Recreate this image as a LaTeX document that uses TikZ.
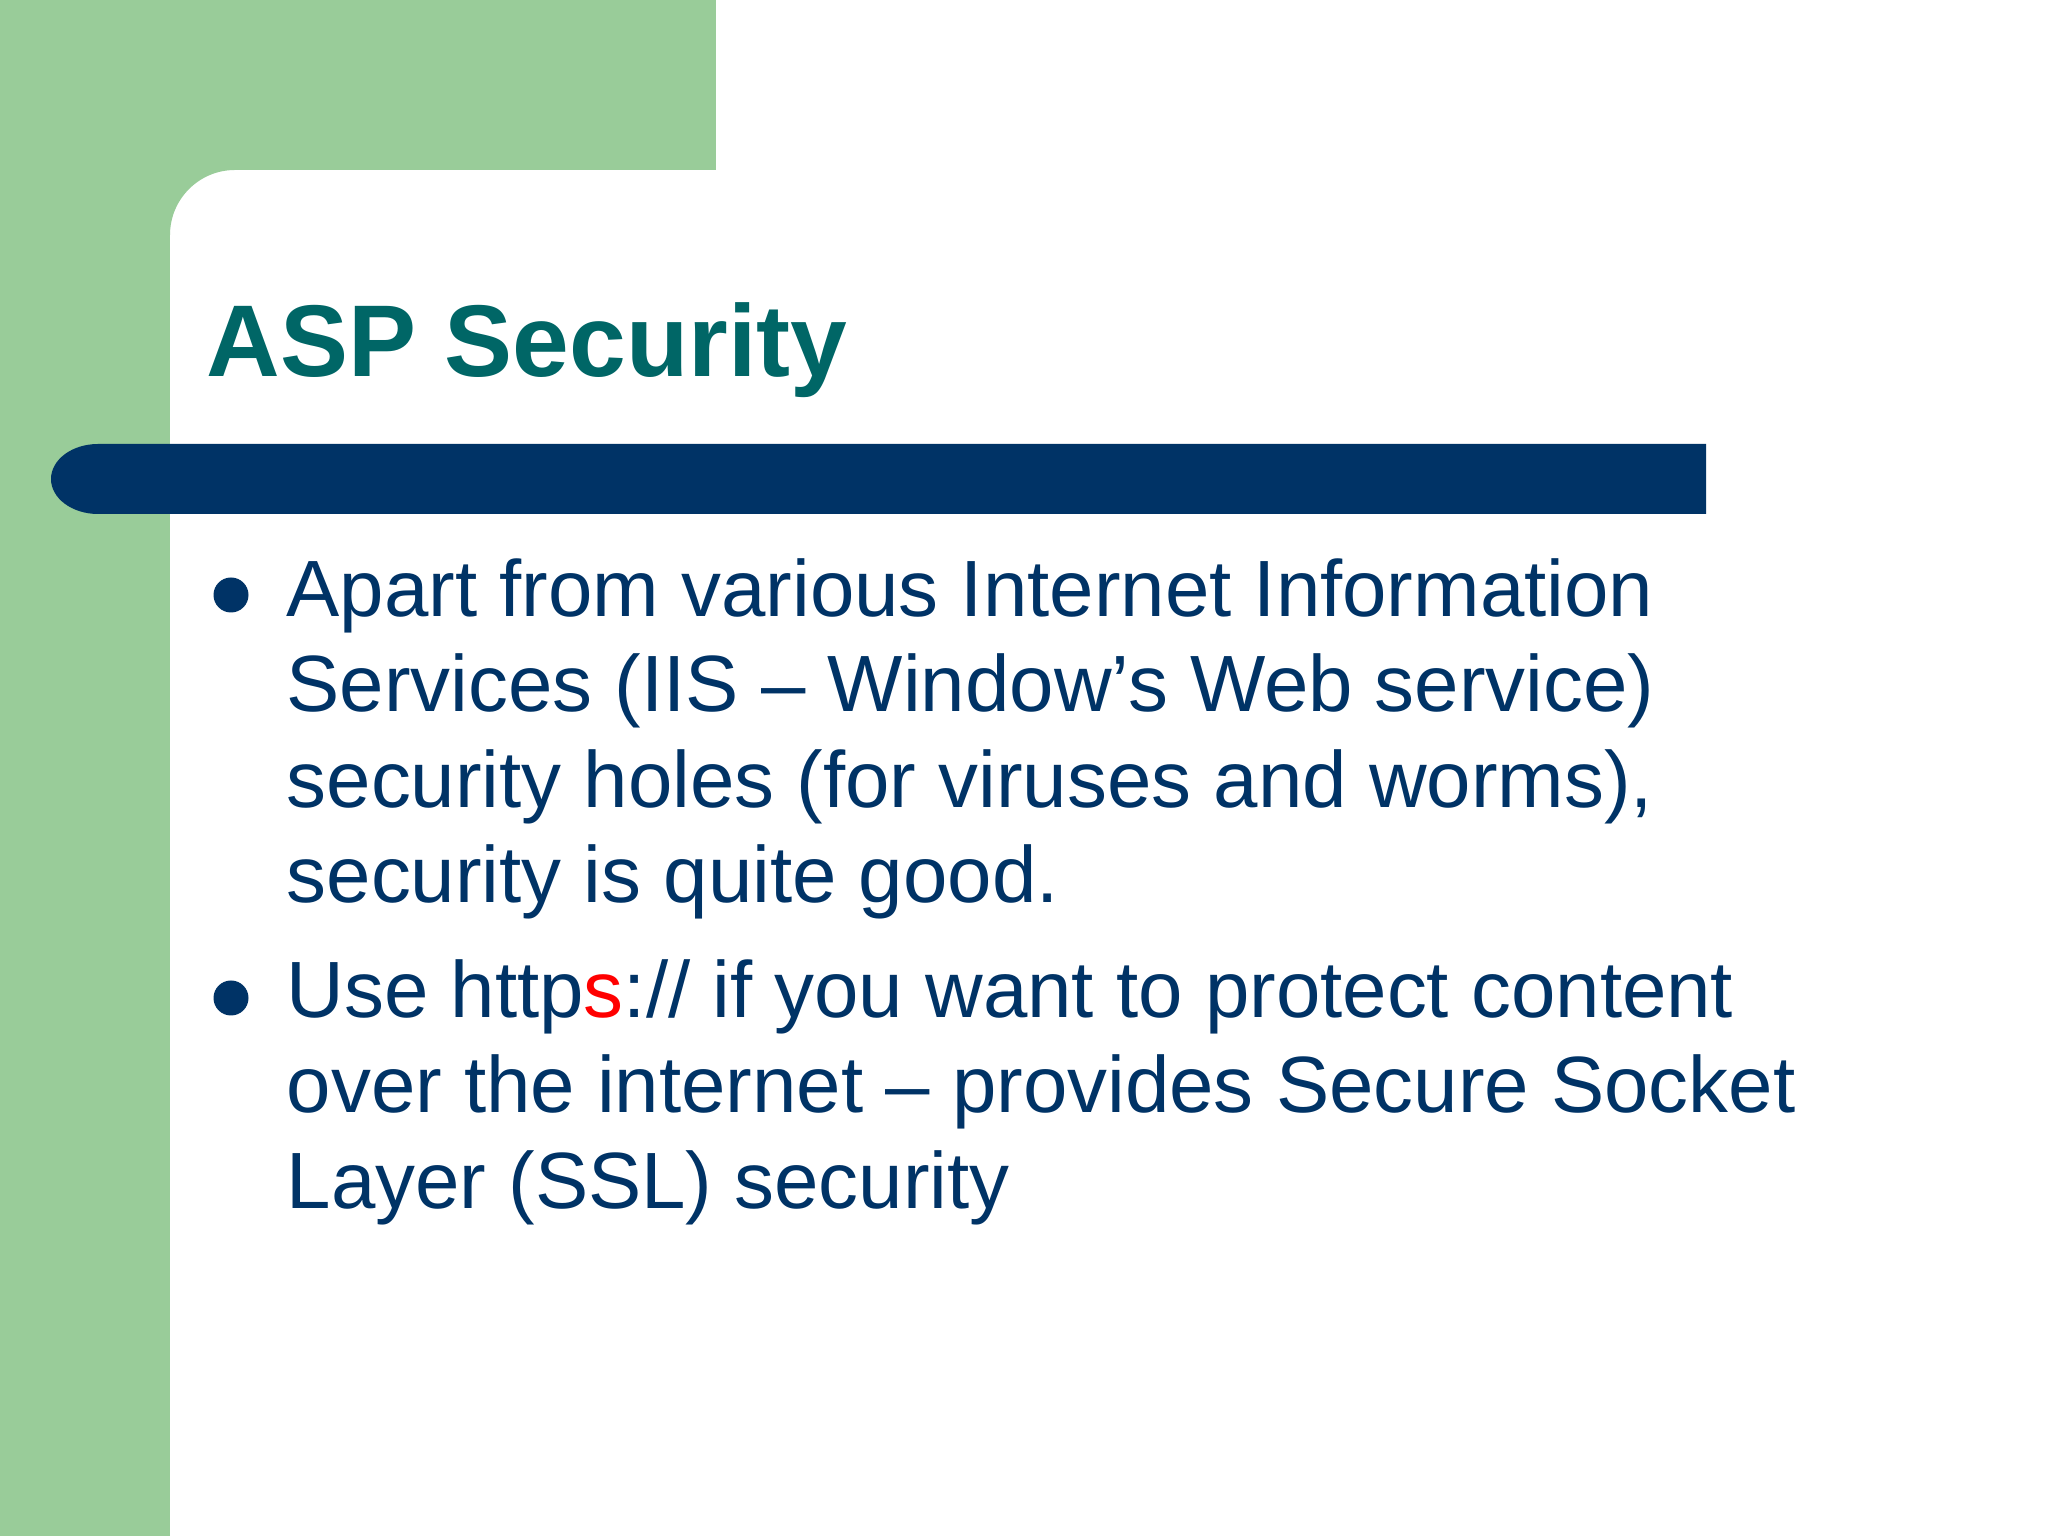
\documentclass[tikz,border=0pt]{standalone}
\usepackage{fontspec}
\setmainfont{Liberation Sans}
\usepackage{xcolor}
\definecolor{slidegreen}{RGB}{153,204,153}
\definecolor{slidenavy}{RGB}{0,51,102}
\definecolor{slideteal}{RGB}{0,102,102}
\tikzset{
  bodyline/.style={anchor=base west, inner sep=0pt, text=slidenavy,
    font=\fontsize{22.7}{27}\selectfont},
  bulletdot/.style={circle, fill=slidenavy, inner sep=0pt, minimum size=35*0.01cm}
}
\begin{document}
\begin{tikzpicture}[x=0.01cm, y=0.01cm]
    \useasboundingbox (0,0) rectangle (2048,1536);
    \fill[white] (0,0) rectangle (2048,1536);
    % green frame
    \fill[slidegreen] (0,0) rectangle (170,1536);
    \fill[slidegreen] (0,1366) rectangle (716,1536);
    \fill[slidegreen] (170,1366) -- (235,1366) arc[start angle=90, end angle=180, radius=65] -- cycle;
    % title bar
    \fill[slidenavy] (98,1092) -- (1706,1092) -- (1706,1022) -- (98,1022)
        arc[start angle=270, end angle=90, x radius=47, y radius=35] -- cycle;
    \node[anchor=base west, inner sep=0pt, text=slideteal, font=\fontsize{29}{34}\selectfont\bfseries]
        (title) at (206,1159) {ASP Security};
    % first bullet
    \node[bulletdot] (dot1) at (231,941) {};
    \node[bodyline] (iis1) at (286,919) {Apart from various Internet Information};
    \node[bodyline] (iis2) at (286,824) {Services (IIS – Window’s Web service)};
    \node[bodyline] (iis3) at (286,728) {security holes (for viruses and worms),};
    \node[bodyline] (iis4) at (286,633) {security is quite good.};
    % second bullet
    \node[bulletdot] (dot2) at (231,538) {};
    \node[bodyline] (ssl1) at (286,518) {Use http\textcolor{red}{s}:// if you want to protect content};
    \node[bodyline] (ssl2) at (286,423) {over the internet – provides Secure Socket};
    \node[bodyline] (ssl3) at (286,327) {Layer (SSL) security};
\end{tikzpicture}
\end{document}
